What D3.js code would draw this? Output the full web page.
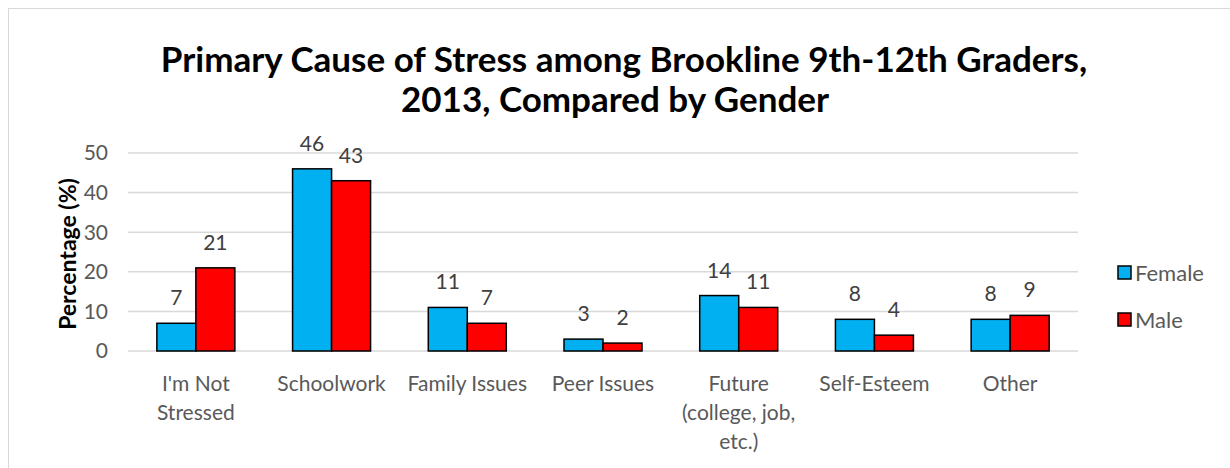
<!DOCTYPE html>
<html>
<head>
<meta charset="utf-8">
<script src="https://cdn.jsdelivr.net/npm/d3@7"></script>
<style>
  body { margin: 0; background: #fff; }
  text { font-family: Lato, "Open Sans", sans-serif; }
</style>
</head>
<body>
<div id="chart"></div>
<script>
const categories = ["I'm Not Stressed", "Schoolwork", "Family Issues", "Peer Issues", "Future (college, job, etc.)", "Self-Esteem", "Other"];
const categoryLines = [["I'm Not", "Stressed"], ["Schoolwork"], ["Family Issues"], ["Peer Issues"], ["Future", "(college, job,", "etc.)"], ["Self-Esteem"], ["Other"]];
const seriesNames = ["Female", "Male"];
const female = [7, 46, 11, 3, 14, 8, 8];
const male = [21, 43, 7, 2, 11, 4, 9];
const yTicks = [0, 10, 20, 30, 40, 50];
const colors = ["#00B0F0", "#FF0000"];

const svgWidth = 1230;
const svgHeight = 468;
const margin = { top: 153, right: 152, bottom: 117, left: 128 };
const chartWidth = svgWidth - margin.left - margin.right;
const chartHeight = svgHeight - margin.top - margin.bottom;

const svg = d3.select('#chart').append('svg').attr('width', svgWidth).attr('height', svgHeight);

// chart border
svg.append('rect')
  .attr('x', 8.5).attr('y', 8.5)
  .attr('width', svgWidth + 10).attr('height', svgHeight + 10)
  .attr('fill', 'none').attr('stroke', '#d9d9d9');

const g = svg.append('g').attr('transform', `translate(${margin.left},${margin.top})`);

const xScale = d3.scaleBand().domain(categories).range([0, chartWidth]);
const xInner = d3.scaleBand().domain(seriesNames).range([0, xScale.bandwidth()]).paddingOuter(0.74);
const yScale = d3.scaleLinear().domain([0, 50]).range([chartHeight, 0]);

// gridlines
g.selectAll('.grid')
  .data(yTicks)
  .enter()
  .append('line')
  .attr('x1', 0).attr('x2', chartWidth)
  .attr('y1', d => yScale(d)).attr('y2', d => yScale(d))
  .attr('stroke', '#d9d9d9').attr('stroke-width', 1.5);

// y tick labels
g.selectAll('.ytick')
  .data(yTicks)
  .enter()
  .append('text')
  .attr('x', -20)
  .attr('y', d => yScale(d))
  .attr('dy', '0.35em')
  .attr('text-anchor', 'end')
  .style('font-size', '21px')
  .attr('fill', '#595959')
  .text(d => d);

const rows = categories.map((c, i) => ({ cat: c, values: [female[i], male[i]] }));

const groups = g.selectAll('.cat')
  .data(rows)
  .enter()
  .append('g')
  .attr('transform', d => `translate(${xScale(d.cat)},0)`);

groups.selectAll('rect')
  .data(d => d.values.map((v, j) => ({ s: seriesNames[j], v: v, j: j })))
  .enter()
  .append('rect')
  .attr('x', d => xInner(d.s))
  .attr('y', d => yScale(d.v))
  .attr('width', xInner.bandwidth())
  .attr('height', d => chartHeight - yScale(d.v))
  .attr('fill', d => colors[d.j])
  .attr('stroke', '#000')
  .attr('stroke-width', 1.5);

groups.selectAll('.lbl')
  .data(d => d.values.map((v, j) => ({ s: seriesNames[j], v: v })))
  .enter()
  .append('text')
  .attr('x', d => xInner(d.s) + xInner.bandwidth() / 2)
  .attr('y', d => yScale(d.v) - 18)
  .attr('text-anchor', 'middle')
  .style('font-size', '21px')
  .attr('fill', '#404040')
  .text(d => d.v);

// category labels
g.selectAll('.xlab')
  .data(categories)
  .enter()
  .append('text')
  .attr('x', d => xScale(d) + xScale.bandwidth() / 2)
  .attr('y', chartHeight + 40)
  .attr('text-anchor', 'middle')
  .style('font-size', '21px')
  .attr('fill', '#595959')
  .selectAll('tspan')
  .data((d, i) => categoryLines[i])
  .enter()
  .append('tspan')
  .attr('x', function () { return d3.select(this.parentNode).attr('x'); })
  .attr('dy', (d, i) => i === 0 ? 0 : 29)
  .text(d => d);

// y-axis label
svg.append('text')
  .attr('transform', 'rotate(-90)')
  .attr('x', -254)
  .attr('y', 76)
  .attr('text-anchor', 'middle')
  .style('font-size', '23px')
  .style('font-weight', 'bold')
  .attr('fill', '#000')
  .text('Percentage (%)');

// title
const title = svg.append('text')
  .attr('text-anchor', 'middle')
  .style('font-size', '35px')
  .style('font-weight', 'bold')
  .attr('fill', '#000');
title.append('tspan').attr('x', 624).attr('y', 72).text('Primary Cause of Stress among Brookline 9th-12th Graders,');
title.append('tspan').attr('x', 615).attr('y', 112).text('2013, Compared by Gender');

// legend
const legend = svg.append('g').attr('transform', 'translate(1118,273)');
seriesNames.forEach((s, i) => {
  const row = legend.append('g').attr('transform', `translate(0,${i * 47})`);
  row.append('rect')
    .attr('x', 0).attr('y', -7)
    .attr('width', 13).attr('height', 13)
    .attr('fill', colors[i]).attr('stroke', '#000').attr('stroke-width', 1.5);
  row.append('text')
    .attr('x', 17).attr('y', 0).attr('dy', '0.35em')
    .style('font-size', '22px')
    .attr('fill', '#595959')
    .text(s);
});
</script>
</body>
</html>
